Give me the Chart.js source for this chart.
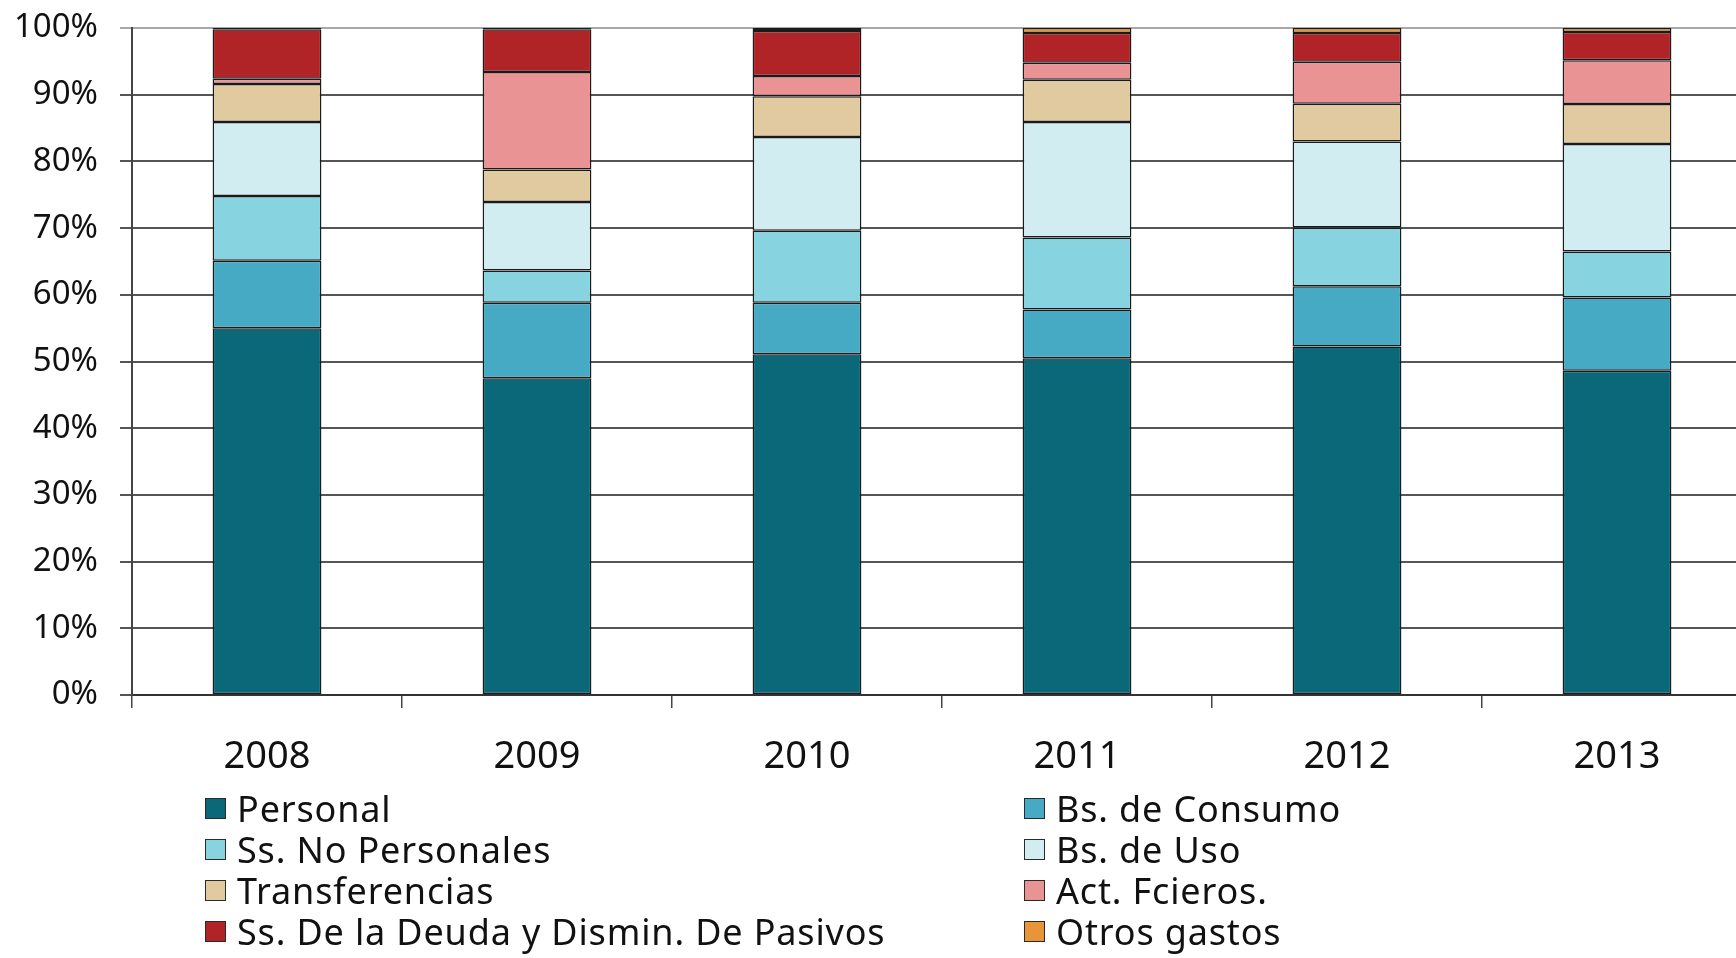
<!DOCTYPE html>
<html>
<head>
<meta charset="utf-8">
<script src="https://cdn.jsdelivr.net/npm/chart.js@4/dist/chart.umd.min.js"></script>
<style>
  html, body { margin: 0; padding: 0; background: #fff; overflow: hidden; width: 1736px; height: 958px; }
  #wrap { position: absolute; left: 0; top: 0; width: 1752px; height: 958px; }
  #legend { position: absolute; left: 0; top: 0; width: 1736px; height: 958px; pointer-events: none;
            font-family: "Noto Sans", sans-serif; font-size: 36px; color: #111; letter-spacing: 0.85px; }
  .item { position: absolute; display: flex; align-items: center; white-space: nowrap; height: 42px; }
  .box { width: 19px; height: 19px; border: 1.5px solid #2a2a2a; margin-right: 11px; box-sizing: content-box; }
</style>
</head>
<body>
<div id="wrap"><canvas id="c"></canvas></div>
<div id="legend"></div>
<script>
const categories = ["2008", "2009", "2010", "2011", "2012", "2013"];
const seriesNames = ["Personal", "Bs. de Consumo", "Ss. No Personales", "Bs. de Uso",
  "Transferencias", "Act. Fcieros.", "Ss. De la Deuda y Dismin. De Pasivos", "Otros gastos"];
const personal      = [55.0, 47.5, 51.1, 50.5, 52.25, 48.6];
const bsConsumo     = [10.1, 11.3, 7.7, 7.3, 9.05, 11.0];
const ssNoPersonales= [9.7, 4.85, 10.8, 10.8, 8.8, 6.9];
const bsUso         = [11.1, 10.25, 14.05, 17.3, 12.9, 16.1];
const transferencias= [5.7, 4.9, 6.1, 6.35, 5.65, 6.0];
const actFcieros    = [0.8, 14.6, 3.05, 2.55, 6.3, 6.55];
const ssDeuda       = [7.4, 6.4, 6.75, 4.45, 4.3, 4.25];
const otrosGastos   = [0.2, 0.2, 0.45, 0.75, 0.75, 0.6];
const yTicks = [0, 10, 20, 30, 40, 50, 60, 70, 80, 90, 100];
const colors = ["#0B6878", "#47AAC5", "#88D3E0", "#D2EDF2", "#E1CAA0", "#E99394", "#B02327", "#E8953A"];

const seriesValues = [personal, bsConsumo, ssNoPersonales, bsUso, transferencias, actFcieros, ssDeuda, otrosGastos];

const datasets = seriesNames.map((name, i) => ({
  label: name,
  data: seriesValues[i],
  backgroundColor: colors[i],
  borderColor: "#1a1a1a",
  borderWidth: 1.5,
  borderSkipped: false,
  categoryPercentage: 1.0,
  barPercentage: 0.403
}));

const tickFont = { family: "Noto Sans", size: 33 };

new Chart(document.getElementById("c"), {
  type: "bar",
  data: { labels: categories, datasets },
  options: {
    responsive: true,
    maintainAspectRatio: false,
    animation: false,
    layout: { padding: { top: 28, bottom: 173, left: 0, right: 0 } },
    plugins: { legend: { display: false }, tooltip: { enabled: false } },
    scales: {
      x: {
        stacked: true,
        offset: true,
        grid: { offset: true, drawOnChartArea: false, drawTicks: true, tickLength: 13, color: "#444", lineWidth: 1.5 },
        border: { display: true, color: "#333", width: 2 },
        ticks: { color: "#111", font: { family: "Noto Sans", size: 38 }, padding: 26, maxRotation: 0 },
        afterFit: (s) => { s.height = 90; s.paddingLeft = 0; s.paddingRight = 0; }
      },
      y: {
        stacked: true,
        min: 0, max: 100,
        afterBuildTicks: (s) => { s.ticks = yTicks.map(v => ({ value: v })); },
        grid: {
          color: (ctx) => (ctx.tick && ctx.tick.value === 100 ? "#a8a8a8" : "#555"),
          lineWidth: 2, tickLength: 12, drawTicks: true
        },
        border: { display: true, color: "#444", width: 2 },
        ticks: { color: "#111", font: tickFont, padding: 22, callback: (v) => v + "%" },
        afterFit: (s) => { s.width = 132; s.paddingTop = 0; s.paddingBottom = 0; }
      }
    }
  }
});

// HTML legend built from the series names and colours (2 columns, row-major)
const legend = document.getElementById("legend");
const colX = [205, 1024];
const rowY0 = 787, rowPitch = 41;
seriesNames.forEach((name, i) => {
  const item = document.createElement("div");
  item.className = "item";
  item.style.left = colX[i % 2] + "px";
  item.style.top = (rowY0 + Math.floor(i / 2) * rowPitch) + "px";
  const box = document.createElement("span");
  box.className = "box";
  box.style.background = colors[i];
  const txt = document.createElement("span");
  txt.textContent = name;
  item.appendChild(box);
  item.appendChild(txt);
  legend.appendChild(item);
});
</script>
</body>
</html>
